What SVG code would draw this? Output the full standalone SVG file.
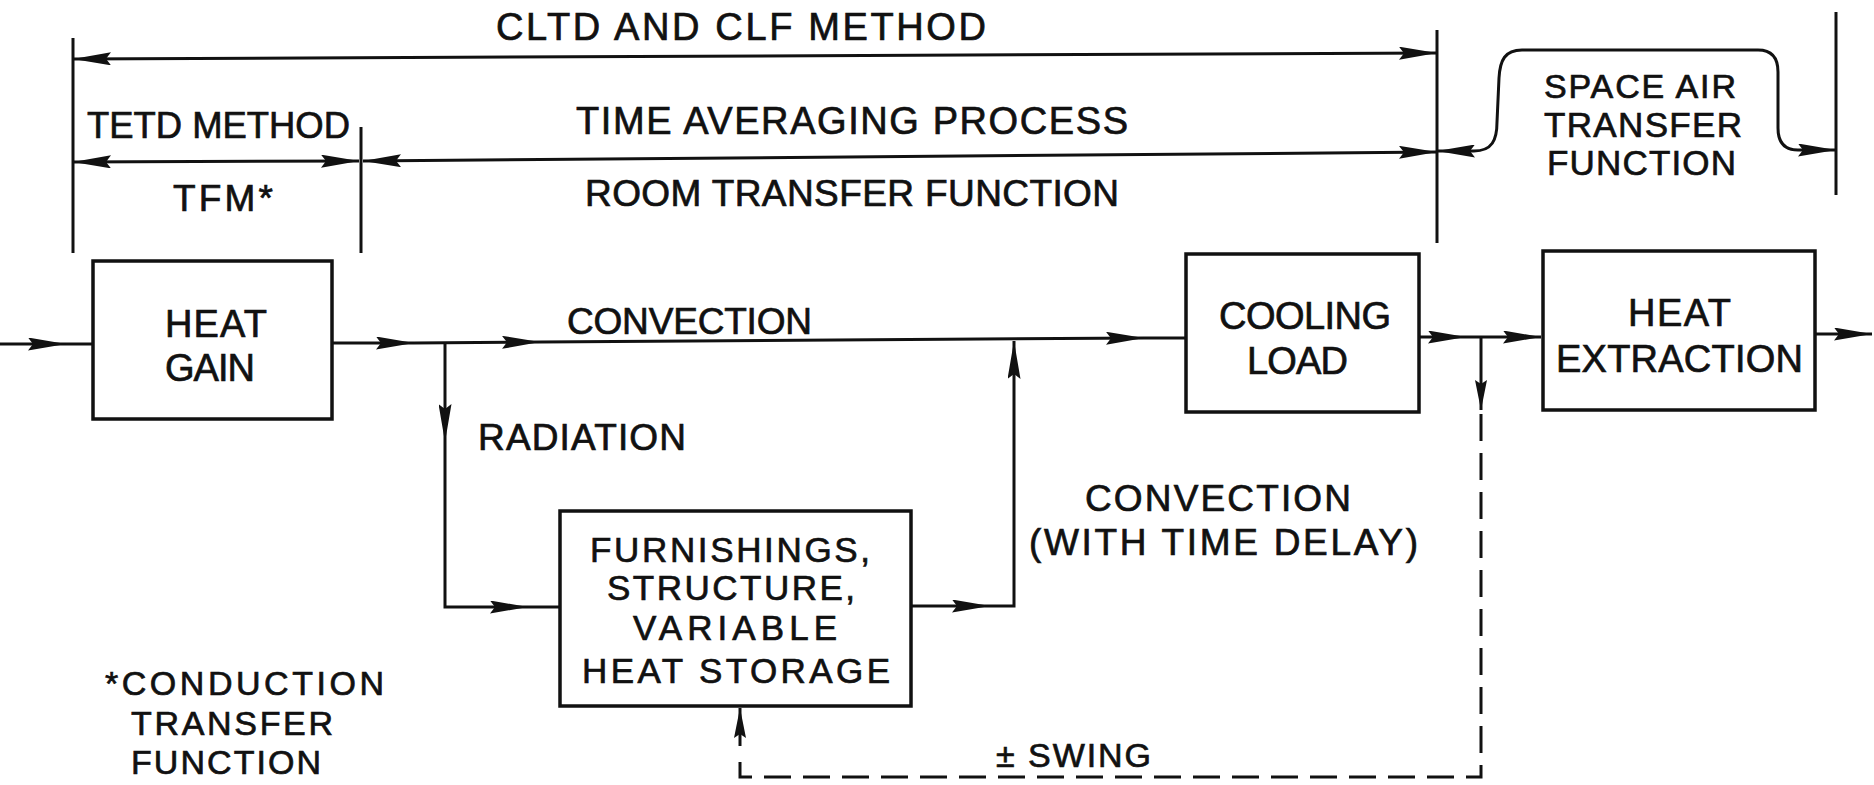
<svg xmlns="http://www.w3.org/2000/svg" width="1874" height="785" viewBox="0 0 1874 785">
<style>
 .t{font-family:"Liberation Sans",Arial,sans-serif;font-size:37px;fill:#111;stroke:#111;stroke-width:0.7;}
 .s38{font-size:38px;}
 .s35{font-size:35px;}
 .s34{font-size:34px;}
 .ln{fill:none;stroke:#111;stroke-width:3;}
 .box{fill:#fff;stroke:#111;stroke-width:3.5;}
 .dash{fill:none;stroke:#111;stroke-width:3;stroke-dasharray:27 12;}
</style>
<defs>
 <marker id="ah" viewBox="0 0 38 13" refX="38" refY="6.5" markerWidth="38" markerHeight="13" orient="auto-start-reverse" markerUnits="userSpaceOnUse">
  <path d="M0,0 L38,6.5 L0,13 L5,6.5 Z" fill="#111"/>
 </marker>
 <marker id="ahs" viewBox="0 0 30 12" refX="30" refY="6" markerWidth="30" markerHeight="12" orient="auto" markerUnits="userSpaceOnUse">
  <path d="M0,0 L30,6 L0,12 L4,6 Z" fill="#111"/>
 </marker>
</defs>
<rect width="1874" height="785" fill="#fff"/>

<g id="connectors">
 <!-- dimension lines -->
 <path class="ln" d="M73,38 V253"/>
 <path class="ln" d="M361,127 V253"/>
 <path class="ln" d="M1437,30 V243"/>
 <path class="ln" d="M1836,12 V195"/>
 <path class="ln" d="M73,59 L1437,53" marker-start="url(#ah)" marker-end="url(#ah)"/>
 <path class="ln" d="M73,162 L359,161" marker-start="url(#ah)" marker-end="url(#ah)"/>
 <path class="ln" d="M363,161 L1437,152" marker-start="url(#ah)" marker-end="url(#ah)"/>
 <path class="ln" d="M1437,151 L1474,151 C1492,151 1497,140 1497,122 L1499,78 C1500,60 1505,50 1522,50 L1758,50 C1772,50 1778,58 1778,72 L1778,128 C1778,142 1784,150 1798,150 L1836,150" marker-start="url(#ah)" marker-end="url(#ah)"/>
 <!-- main flow -->
 <path class="ln" d="M0,344 H66" marker-end="url(#ah)"/>
 <path class="ln" d="M66,344 H93"/>
 <path class="ln" d="M332,343 H414" marker-end="url(#ah)"/>
 <path class="ln" d="M414,343 L540,342" marker-end="url(#ah)"/>
 <path class="ln" d="M540,342 L1144,338" marker-end="url(#ah)"/>
 <path class="ln" d="M1144,338 H1186"/>
 <path class="ln" d="M445,342 V442" marker-end="url(#ah)"/>
 <path class="ln" d="M445,442 V607 H528" marker-end="url(#ah)"/>
 <path class="ln" d="M528,607 H560"/>
 <path class="ln" d="M911,606 H990" marker-end="url(#ah)"/>
 <path class="ln" d="M990,606 H1014 V341" marker-end="url(#ah)"/>
 <path class="ln" d="M1419,337 H1466" marker-end="url(#ah)"/>
 <path class="ln" d="M1466,337 H1541" marker-end="url(#ah)"/>
 <path class="ln" d="M1815,334 H1872" marker-end="url(#ah)"/>
 <!-- swing feedback -->
 <path class="ln" d="M1481,337 V410" marker-end="url(#ahs)"/>
 <path class="dash" d="M1481,414 V777 H740 V758"/>
 <path class="ln" d="M740,746 V708" marker-end="url(#ahs)"/>
</g>

<g id="heat-gain">
 <rect class="box" x="93" y="261" width="239" height="158"/>
 <text class="t s38" x="165" y="337" textLength="102">HEAT</text>
 <text class="t s38" x="165" y="381" textLength="90">GAIN</text>
</g>
<g id="furnishings">
 <rect class="box" x="560" y="511" width="351" height="195"/>
 <text class="t s35" x="590" y="562" textLength="280">FURNISHINGS,</text>
 <text class="t s35" x="607" y="600" textLength="248">STRUCTURE,</text>
 <text class="t s35" x="633" y="640" textLength="204">VARIABLE</text>
 <text class="t s35" x="582" y="683" textLength="308">HEAT STORAGE</text>
</g>
<g id="cooling-load">
 <rect class="box" x="1186" y="254" width="233" height="158"/>
 <text class="t s38" x="1219" y="329" textLength="172">COOLING</text>
 <text class="t s38" x="1247" y="374" textLength="101">LOAD</text>
</g>
<g id="heat-extraction">
 <rect class="box" x="1543" y="251" width="272" height="159"/>
 <text class="t s38" x="1628" y="326" textLength="103">HEAT</text>
 <text class="t s38" x="1556" y="372" textLength="247">EXTRACTION</text>
</g>

<g id="labels">
 <text class="t s38" x="496" y="40" textLength="490">CLTD AND CLF METHOD</text>
 <text class="t" x="87" y="138" textLength="263" lengthAdjust="spacingAndGlyphs">TETD METHOD</text>
 <text class="t s38" x="576" y="134" textLength="552">TIME AVERAGING PROCESS</text>
 <text class="t" x="173" y="211" textLength="100">TFM*</text>
 <text class="t" x="585" y="206" textLength="534">ROOM TRANSFER FUNCTION</text>
 <text class="t s34" x="1544" y="98" textLength="192">SPACE AIR</text>
 <text class="t s35" x="1544" y="137" textLength="198">TRANSFER</text>
 <text class="t s35" x="1547" y="175" textLength="189">FUNCTION</text>
 <text class="t" x="567" y="334" textLength="245">CONVECTION</text>
 <text class="t" x="478" y="450" textLength="208">RADIATION</text>
 <text class="t" x="1085" y="511" textLength="266">CONVECTION</text>
 <text class="t" x="1029" y="555" textLength="389">(WITH TIME DELAY)</text>
 <text class="t s34" x="996" y="767" textLength="155">± SWING</text>
 <text class="t s34" x="105" y="695" textLength="279">*CONDUCTION</text>
 <text class="t s34" x="131" y="735" textLength="202">TRANSFER</text>
 <text class="t s34" x="131" y="774" textLength="190">FUNCTION</text>
</g>
</svg>
